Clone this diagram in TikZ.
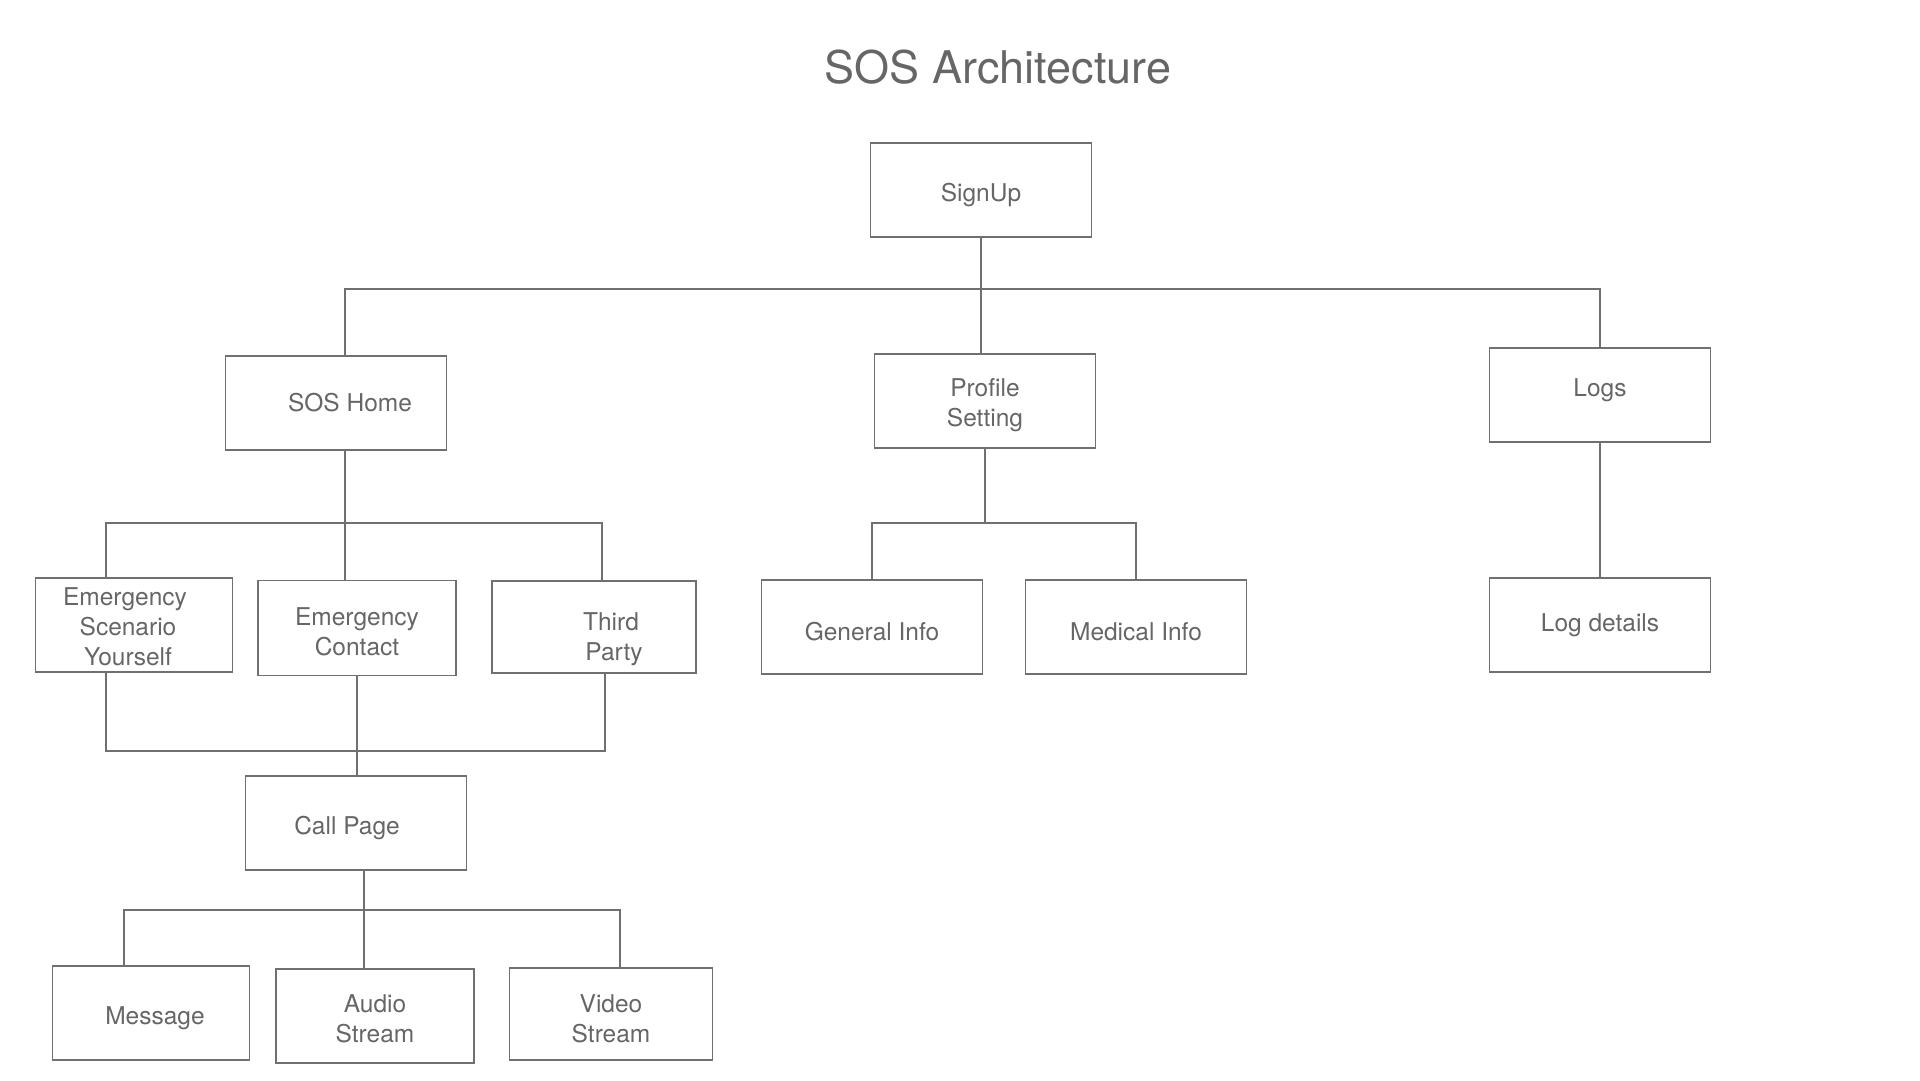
\documentclass[tikz,border=0pt]{standalone}
\usepackage{fontspec}
\setmainfont{TeX Gyre Heros}
\definecolor{textgray}{HTML}{666666}
\definecolor{linegray}{HTML}{707070}

\begin{document}
\begin{tikzpicture}[x=1pt, y=1pt, line width=1.3pt,
    box/.style={draw=linegray, rectangle, inner sep=0pt, minimum width=221pt, minimum height=94pt,
        text=textgray, align=center, font=\fontsize{24.5}{30}\selectfont},
    lowered/.style={execute at begin node={\rule{0pt}{28pt}}},
    wire/.style={draw=linegray, line width=1.1pt}]
    \useasboundingbox (0,0) rectangle (1920,-1080);

    % 标题
    \node[text=textgray, font=\fontsize{45}{54}\selectfont] (title) at (998,-67) {SOS Architecture};

    % 第一层
    \node[box, lowered] (signup) at (981,-190) {SignUp};
    \node[box] (home) at (336,-403) {\hspace*{28pt}SOS Home};
    \node[box] (prof) at (985,-401) {\rule{0pt}{26pt}Profile\\Setting};
    \node[box] (logs) at (1600,-395) {\raisebox{15pt}{Logs}};

    % 第二层
    \node[box, minimum width=197pt] (esy) at (134,-625)
        {\rule{0pt}{22pt}\hspace*{-18pt}Emergency\\\hspace*{-12pt}Scenario\\\hspace*{-12pt}Yourself};
    \node[box, minimum width=198pt, minimum height=95pt] (ec) at (357,-628) {\rule{0pt}{26pt}Emergency\\Contact};
    \node[box, minimum width=204pt, minimum height=92pt] (tp) at (594,-627)
        {\rule{0pt}{42pt}\hspace*{34pt}Third\\\hspace*{40pt}Party};
    \node[box, lowered] (gi) at (872,-627) {General Info};
    \node[box, lowered] (mi) at (1136,-627) {Medical Info};
    \node[box] (ld) at (1600,-625) {Log details};

    % 第三层
    \node[box, lowered] (call) at (356,-823) {Call Page\hspace*{18pt}};
    \node[box, lowered, minimum width=197pt] (msg) at (151,-1013) {\hspace*{8pt}Message};
    \node[box, minimum width=198pt] (audio) at (375,-1016) {\rule{0pt}{24pt}Audio\\Stream};
    \node[box, minimum width=203pt, minimum height=92pt] (video) at (611,-1014) {\rule{0pt}{28pt}Video\\Stream};

    % 连线
    \coordinate (b1l) at (345,-289);
    \coordinate (b1r) at (1600,-289);
    \draw[wire] (signup.south) -- (signup.south |- prof.north);
    \draw[wire] (home.north -| b1l) -- (b1l) -- (b1r) -- (logs.north -| b1r);

    \coordinate (b2l) at (106,-523);
    \coordinate (b2r) at (602,-523);
    \draw[wire] (home.south -| b1l) -- (ec.north -| b1l);
    \draw[wire] (esy.north -| b2l) -- (b2l) -- (b2r) -- (tp.north -| b2r);

    \coordinate (b3l) at (106,-751);
    \coordinate (b3r) at (605,-751);
    \draw[wire] (esy.south -| b3l) -- (b3l) -- (b3r) -- (tp.south -| b3r);
    \draw[wire] (ec.south) -- (ec.south |- call.north);

    \coordinate (b4l) at (124,-910);
    \coordinate (b4m) at (364,-910);
    \coordinate (b4r) at (620,-910);
    \draw[wire] (call.south -| b4m) -- (audio.north -| b4m);
    \draw[wire] (msg.north -| b4l) -- (b4l) -- (b4r) -- (video.north -| b4r);

    \coordinate (b5) at (985,-523);
    \draw[wire] (prof.south) -- (b5);
    \draw[wire] (gi.north) -- (gi.north |- b5) -- (mi.north |- b5) -- (mi.north);

    \draw[wire] (logs.south) -- (ld.north);
\end{tikzpicture}
\end{document}
